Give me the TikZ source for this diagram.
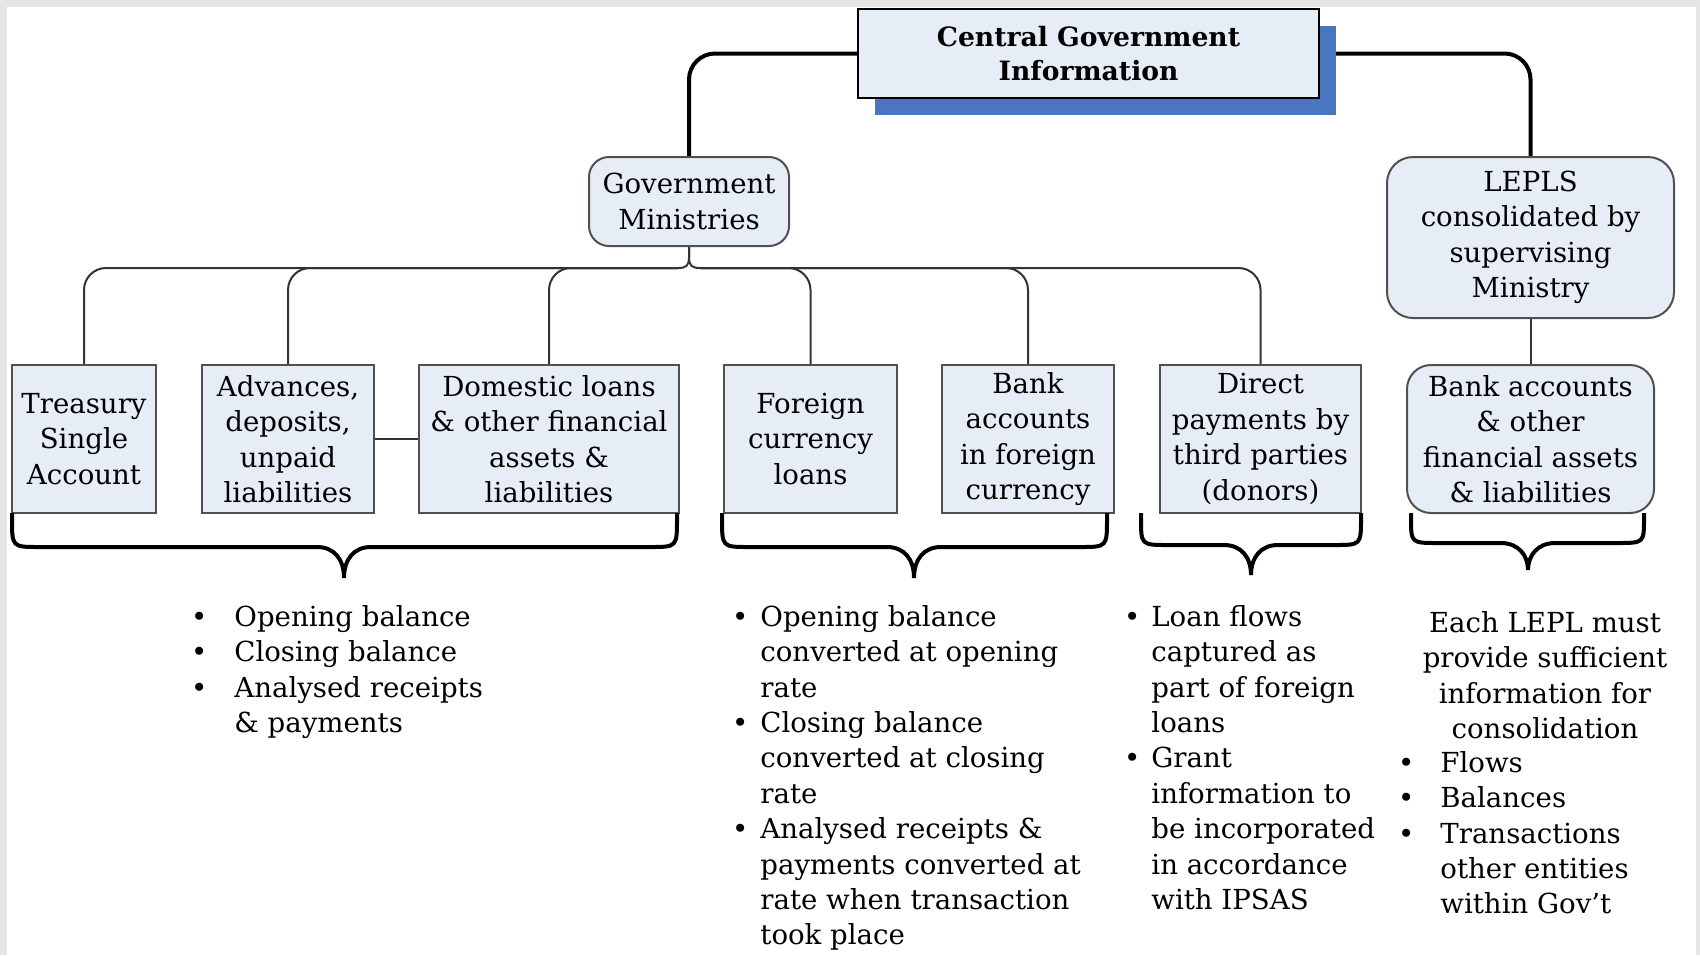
\documentclass[tikz,border=0pt]{standalone}
\usepackage{fontspec}
\setmainfont{DejaVu Serif}
\usetikzlibrary{shadows}
\definecolor{boxfill}{HTML}{E7EDF7}
\definecolor{boxline}{HTML}{505050}
\definecolor{shadowblue}{HTML}{4876BF}
\definecolor{pagegray}{HTML}{E6E6E6}
\pgfdeclarelayer{bg}
\pgfdeclarelayer{lines}
\pgfsetlayers{bg,lines,main}
\newcommand{\bul}[1]{\strut\llap{\textbullet\hspace{#1}}}
\newcommand{\mybrace}[5]{%
  \draw[brace] (#1,513) -- (#1,518) .. controls (#1,#4) .. (#1+27,#4) -- (#3-27,#4)
    .. controls (#3-10,#4) and (#3,#4+12) .. (#3,#5)
    .. controls (#3,#4+12) and (#3+10,#4) .. (#3+27,#4) -- (#2-27,#4)
    .. controls (#2,#4) .. (#2,518) -- (#2,513);}
\begin{document}
\begin{tikzpicture}[x=0.5pt,y=-0.5pt,
  txt/.style={font=\fontsize{13.8}{17.7}\selectfont},
  box/.style={txt, draw=boxline, line width=1pt, fill=boxfill, align=center, inner sep=2pt, minimum height=74pt},
  rbox/.style={box, rounded corners=12pt},
  biglink/.style={line width=2pt, black, rounded corners=13pt},
  link/.style={line width=1pt, black!80},
  brace/.style={line width=2pt, black},
  note/.style={txt, align=left, anchor=north west, inner sep=0pt},
  cnote/.style={txt, align=center, anchor=north, inner sep=0pt}]
\useasboundingbox (0,0) rectangle (1700,955);
\begin{pgfonlayer}{bg}
\fill[pagegray] (0,0) rectangle (1700,955);
\fill[white] (7,7) rectangle (1696,955);
\end{pgfonlayer}

% nodes
\node[box, font=\fontsize{13.3}{17.2}\selectfont\bfseries, draw=black, minimum width=230.5pt, minimum height=44.5pt,
  drop shadow={shadow xshift=8.5pt, shadow yshift=-8.5pt, fill=shadowblue, opacity=1}] (cg) at (1088.5,53.5) {Central Government\\Information};
\node[rbox, minimum width=100pt, minimum height=44.5pt, rounded corners=10pt] (gm) at (689,201.5) {Government\\Ministries};
\node[rbox, minimum width=143.5pt, minimum height=80.5pt, rounded corners=13pt] (lepls) at (1530.5,237.5) {LEPLS\\consolidated by\\supervising\\Ministry};
\node[rbox, minimum width=123.5pt] (ba) at (1530.5,439) {Bank accounts\\\& other\\financial assets\\\& liabilities};
\node[box, minimum width=72pt] (tsa) at (84,439) {Treasury\\Single\\Account};
\node[box, minimum width=86pt] (adv) at (288,439) {Advances,\\deposits,\\unpaid\\liabilities};
\node[box, minimum width=130pt] (dom) at (549,439) {Domestic loans\\\& other financial\\assets \&\\liabilities};
\node[box, minimum width=86.5pt] (fcl) at (810.5,439) {Foreign\\currency\\loans};
\node[box, minimum width=86pt] (bfc) at (1028,439) {Bank\\accounts\\in foreign\\currency};
\node[box, minimum width=100.5pt] (dir) at (1260.5,439) {Direct\\payments by\\third parties\\(donors)};

% connectors
\begin{pgfonlayer}{lines}
\draw[biglink] (cg.west) -| (gm.north);
\draw[biglink] (cg.east) -| (lepls.north);
\coordinate (jL) at (678,268);
\coordinate (jR) at (700,268);
\draw[link] (gm.south) -- (689,257) .. controls (689,266) and (686,268) .. (jL);
\draw[link] (gm.south) -- (689,257) .. controls (689,266) and (692,268) .. (jR);
\draw[link, rounded corners=11pt] (jL) -| (tsa.north);
\draw[link, rounded corners=11pt] (jL) -| (adv.north);
\draw[link, rounded corners=11pt] (jL) -| (dom.north);
\draw[link, rounded corners=11pt] (jR) -| (fcl.north);
\draw[link, rounded corners=11pt] (jR) -| (bfc.north);
\draw[link, rounded corners=11pt] (jR) -| (dir.north);
\draw[link] (adv.east) -- (dom.west);
\draw[link] (lepls.south) -- (ba.north);
\end{pgfonlayer}

% braces
\mybrace{12}{677}{344}{547}{578}
\mybrace{722}{1107}{914}{547}{578}
\mybrace{1141}{1361}{1251}{545}{575}
\mybrace{1411}{1644}{1528}{543}{570}

% notes
\node[note] (n1) at (234,601) {\bul{13.5pt}Opening balance\\\bul{13.5pt}Closing balance\\\bul{13.5pt}Analysed receipts\\\& payments};
\node[note] (n2) at (760,601) {\bul{6pt}Opening balance\\converted at opening\\rate\\\bul{6pt}Closing balance\\converted at closing\\rate\\\bul{6pt}Analysed receipts \&\\payments converted at\\rate when transaction\\took place};
\node[note] (n3) at (1151,601) {\bul{5.5pt}Loan flows\\captured as\\part of foreign\\loans\\\bul{5.5pt}Grant\\information to\\be incorporated\\in accordance\\with IPSAS};
\node[cnote] (n4) at (1545,607) {\strut Each LEPL must\\provide sufficient\\information for\\consolidation};
\node[note] (n5) at (1440,747) {\bul{13pt}Flows\\\bul{13pt}Balances\\\bul{13pt}Transactions\\other entities\\within Gov't};
\end{tikzpicture}
\end{document}
